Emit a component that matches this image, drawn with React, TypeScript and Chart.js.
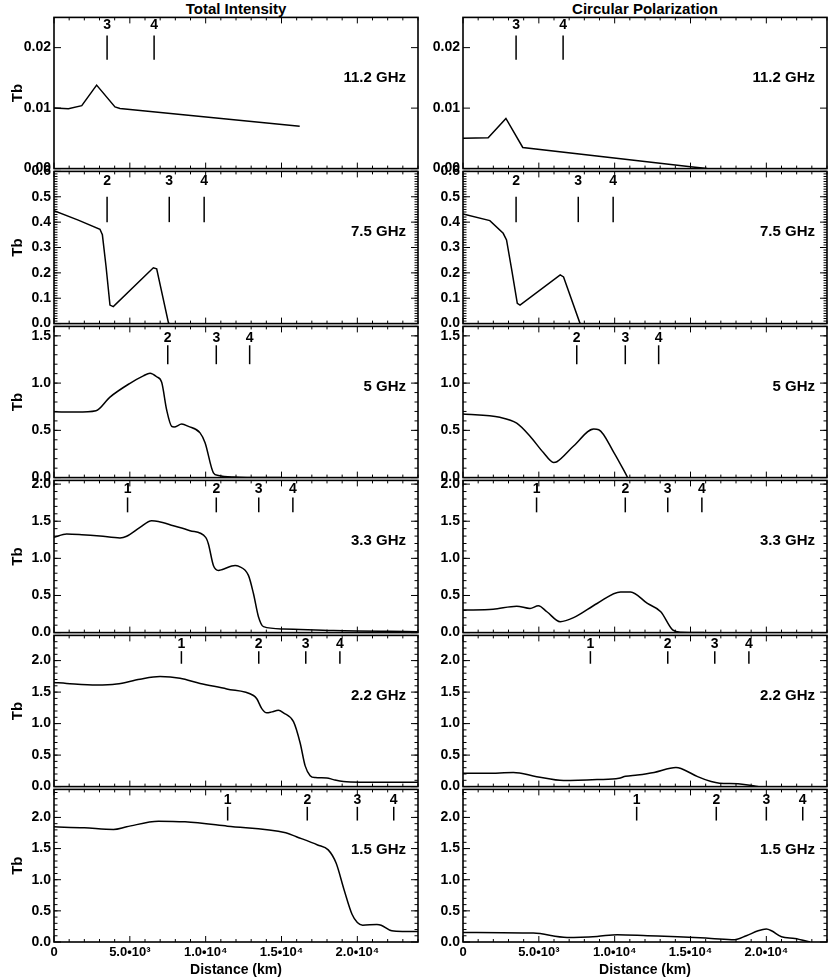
import { useEffect, useRef } from 'react';
import Chart from 'chart.js/auto';

// ---- data ----
const columnTitles = ['Total Intensity', 'Circular Polarization'];
const freqLabels = ['11.2 GHz', '7.5 GHz', '5 GHz', '3.3 GHz', '2.2 GHz', '1.5 GHz'];

const xMax = 24000;
const xTickValues = [0, 5000, 10000, 15000, 20000];
const xTickLabels = ['0', '5.0•10³', '1.0•10⁴', '1.5•10⁴', '2.0•10⁴'];

const yMax = [0.025, 0.6, 1.6, 2.05, 2.4, 2.45];
const yTickValues = [
  [0, 0.01, 0.02],
  [0, 0.1, 0.2, 0.3, 0.4, 0.5, 0.6],
  [0, 0.5, 1.0, 1.5],
  [0, 0.5, 1.0, 1.5, 2.0],
  [0, 0.5, 1.0, 1.5, 2.0],
  [0, 0.5, 1.0, 1.5, 2.0],
];
const yTickDecimals = [2, 1, 1, 1, 1, 1];
const yMinorStep = [0, 0.01, 0.1, 0.1, 0.1, 0.1];

// numbered markers (distance, km)
const markerX = [
  [3500, 6600],
  [3500, 7600, 9900],
  [7500, 10700, 12900],
  [4850, 10700, 13500, 15750],
  [8400, 13500, 16600, 18850],
  [11450, 16700, 20000, 22400],
];
const markerNames = [
  ['3', '4'],
  ['2', '3', '4'],
  ['2', '3', '4'],
  ['1', '2', '3', '4'],
  ['1', '2', '3', '4'],
  ['1', '2', '3', '4'],
];
// marker bar low / high and label level, in Tb units
const markerLo = [0.018, 0.4, 1.2, 1.62, 1.95, 1.95];
const markerHi = [0.022, 0.5, 1.4, 1.82, 2.15, 2.17];
const markerText = [0.0237, 0.56, 1.48, 1.93, 2.26, 2.28];

// Total intensity
const ti112X = [0, 950, 1830, 2810, 4020, 4350, 16200];
const ti112Y = [0.01, 0.0099, 0.0104, 0.0138, 0.0102, 0.00995, 0.007];
const ti75X = [0, 1600, 3030, 3190, 3430, 3690, 3910, 6550, 6770, 7540, 7600];
const ti75Y = [0.445, 0.408, 0.372, 0.35, 0.226, 0.073, 0.067, 0.22, 0.216, 0.005, 0];
const ti5X = [0, 1500, 2770, 3690, 5010, 5890, 6330, 6770, 7100, 7430, 7760, 7920, 8420, 8860, 9630, 9960, 10510, 10840, 11830, 14000, 15000];
const ti5Y = [0.697, 0.693, 0.708, 0.852, 0.998, 1.077, 1.105, 1.067, 1.008, 0.715, 0.542, 0.535, 0.566, 0.542, 0.473, 0.369, 0.051, 0.023, 0.006, 0, 0];
const ti33X = [0, 835, 1830, 3030, 4350, 4790, 5670, 6440, 6880, 7870, 8970, 10000, 10180, 10510, 10840, 11060, 11940, 12160, 12820, 13150, 13480, 13810, 15130, 18420, 24000];
const ti33Y = [1.283, 1.328, 1.319, 1.301, 1.275, 1.297, 1.417, 1.506, 1.497, 1.439, 1.373, 1.283, 1.194, 0.905, 0.838, 0.847, 0.905, 0.896, 0.771, 0.526, 0.214, 0.08, 0.049, 0.027, 0.013];
const ti22X = [0, 835, 2810, 4130, 5670, 6990, 8310, 9630, 11390, 13150, 13370, 13700, 14030, 14360, 14800, 15130, 15790, 16230, 16560, 16890, 17220, 17990, 18420, 19080, 20180, 24000];
const ti22Y = [1.653, 1.638, 1.612, 1.628, 1.705, 1.747, 1.721, 1.638, 1.55, 1.446, 1.394, 1.238, 1.171, 1.186, 1.212, 1.171, 1.031, 0.693, 0.329, 0.174, 0.143, 0.137, 0.111, 0.08, 0.07, 0.07];
const ti15X = [0, 2000, 3920, 4790, 6890, 8640, 11430, 15280, 15980, 17380, 18080, 18600, 19120, 19650, 20000, 20350, 21290, 21570, 22270, 22970, 24000];
const ti15Y = [1.849, 1.833, 1.807, 1.849, 1.94, 1.929, 1.86, 1.754, 1.69, 1.558, 1.479, 1.267, 0.843, 0.445, 0.313, 0.27, 0.281, 0.27, 0.18, 0.17, 0.17];

// Circular polarization
const cp112X = [0, 1660, 2830, 3940, 15000, 16100];
const cp112Y = [0.005, 0.0051, 0.0083, 0.0035, 0.0003, 0];
const cp75X = [0, 1770, 2650, 2870, 3210, 3580, 3760, 6410, 6630, 7690, 7750];
const cp75Y = [0.432, 0.406, 0.356, 0.33, 0.213, 0.08, 0.073, 0.192, 0.184, 0.005, 0];
const cp5X = [0, 2430, 3540, 4420, 5300, 5970, 6190, 7290, 8620, 8950, 9950, 10840];
const cp5Y = [0.673, 0.638, 0.576, 0.438, 0.265, 0.161, 0.168, 0.334, 0.514, 0.507, 0.265, 0.006];
const cp33X = [0, 1990, 3540, 4420, 4970, 5530, 6410, 7290, 8840, 10390, 11050, 12160, 13040, 13820, 14370, 15910];
const cp33Y = [0.303, 0.316, 0.356, 0.325, 0.361, 0.281, 0.147, 0.201, 0.392, 0.548, 0.548, 0.392, 0.281, 0.036, 0.004, 0];
const cp22X = [0, 1550, 3320, 4860, 6630, 8840, 10280, 10720, 11500, 12600, 14040, 14370, 15470, 16360, 16910, 18130, 19010, 19460];
const cp22Y = [0.21, 0.21, 0.225, 0.158, 0.096, 0.111, 0.132, 0.163, 0.184, 0.225, 0.303, 0.288, 0.158, 0.08, 0.054, 0.044, 0.018, 0.002];
const cp15X = [0, 4640, 6860, 8840, 10170, 12160, 14150, 16360, 17900, 18680, 19460, 20000, 20340, 21000, 21880, 22880];
const cp15Y = [0.154, 0.143, 0.074, 0.09, 0.117, 0.101, 0.085, 0.058, 0.037, 0.101, 0.18, 0.207, 0.18, 0.085, 0.058, 0];

const curvesX = [
  [ti112X, ti75X, ti5X, ti33X, ti22X, ti15X],
  [cp112X, cp75X, cp5X, cp33X, cp22X, cp15X],
];
const curvesY = [
  [ti112Y, ti75Y, ti5Y, ti33Y, ti22Y, ti15Y],
  [cp112Y, cp75Y, cp5Y, cp33Y, cp22Y, cp15Y],
];

// ---- layout ----
const FONT = '"Liberation Sans", Arial, Helvetica, sans-serif';
const PLOT_LEFT = [54, 463];
const PLOT_W = 364;
const AXIS_W = 54;
const PAD = 10;
const ROW_TOP = [16, 170, 325, 479, 634, 788];
const PLOT_BOTTOM = 942;
const PAGE_H = 979;
// the two high-frequency panels are drawn as plain polylines
const SMOOTH_ROW = [false, false, true, true, true, true];

Chart.defaults.font.family = FONT;

function Panel({ row, col }: { row: number; col: number }) {
  const chartRef = useRef<HTMLCanvasElement>(null);
  const last = row === ROW_TOP.length - 1;
  const rowH = (last ? PLOT_BOTTOM : ROW_TOP[row + 1]) - ROW_TOP[row];
  const left = PLOT_LEFT[col] - AXIS_W;
  const top = ROW_TOP[row] - PAD;
  const width = AXIS_W + PLOT_W + PAD;
  const height = last ? PAGE_H - top : rowH + 2 * PAD;

  useEffect(() => {
    if (!chartRef.current) return;
    const ctx = chartRef.current.getContext('2d');
    if (!ctx) return;

    const xs = curvesX[col][row];
    const ys = curvesY[col][row];

    // frame, inward ticks, markers and frequency label
    const framePlugin = {
      id: 'frame',
      afterDraw(chart: Chart) {
        const c = chart.ctx;
        const a = chart.chartArea;
        const sx = chart.scales.x;
        const sy = chart.scales.y;
        c.save();
        c.strokeStyle = '#000';
        c.fillStyle = '#000';
        c.lineWidth = 1;
        c.beginPath();
        for (let v = 0; v <= xMax; v += 1000) {
          const px = sx.getPixelForValue(v);
          const len = v % 5000 === 0 ? 6 : 3;
          c.moveTo(px, a.bottom);
          c.lineTo(px, a.bottom - len);
          c.moveTo(px, a.top);
          c.lineTo(px, a.top + len);
        }
        for (const v of yTickValues[row]) {
          const py = sy.getPixelForValue(v);
          c.moveTo(a.left, py);
          c.lineTo(a.left + 7, py);
          c.moveTo(a.right, py);
          c.lineTo(a.right - 7, py);
        }
        const step = yMinorStep[row];
        if (step > 0) {
          const n = Math.round(yMax[row] / step);
          for (let k = 1; k <= n; k++) {
            const py = sy.getPixelForValue(k * step);
            if (py < a.top) break;
            c.moveTo(a.left, py);
            c.lineTo(a.left + 3.5, py);
            c.moveTo(a.right, py);
            c.lineTo(a.right - 3.5, py);
          }
        }
        c.stroke();

        c.lineWidth = 1.6;
        c.strokeRect(a.left, a.top, a.right - a.left, a.bottom - a.top);

        // numbered markers
        c.lineWidth = 1.5;
        c.font = `bold 14px ${FONT}`;
        c.textAlign = 'center';
        c.textBaseline = 'middle';
        markerX[row].forEach((mx, i) => {
          const px = sx.getPixelForValue(mx);
          c.beginPath();
          c.moveTo(px, sy.getPixelForValue(markerLo[row]));
          c.lineTo(px, sy.getPixelForValue(markerHi[row]));
          c.stroke();
          c.fillText(markerNames[row][i], px, sy.getPixelForValue(markerText[row]));
        });

        c.font = `bold 15px ${FONT}`;
        c.textAlign = 'right';
        c.fillText(freqLabels[row], a.right - 12, a.top + 60);
        c.restore();
      },
    };

    const chart = new Chart(ctx, {
      type: 'line',
      data: {
        datasets: [
          {
            data: xs.map((x, i) => ({ x, y: ys[i] })),
            borderColor: '#000',
            borderWidth: 1.5,
            pointRadius: 0,
            fill: false,
            tension: 0,
            cubicInterpolationMode: SMOOTH_ROW[row] ? 'monotone' : 'default',
          },
        ],
      },
      options: {
        animation: false,
        responsive: true,
        maintainAspectRatio: false,
        events: [],
        layout: { padding: { top: PAD, right: PAD, bottom: last ? 0 : PAD, left: 0 } },
        plugins: { legend: { display: false }, tooltip: { enabled: false } },
        scales: {
          x: {
            type: 'linear',
            min: 0,
            max: xMax,
            display: last,
            grid: { display: false, drawTicks: false },
            border: { display: false },
            afterBuildTicks: (s: any) => {
              s.ticks = xTickValues.map((v) => ({ value: v }));
            },
            afterFit: (s: any) => {
              if (last) s.height = PAGE_H - PLOT_BOTTOM;
            },
            ticks: {
              autoSkip: false,
              maxRotation: 0,
              padding: 3,
              color: '#000',
              font: { size: 13, weight: 'bold' },
              callback: (v: any) => {
                const i = xTickValues.indexOf(Number(v));
                return i >= 0 ? xTickLabels[i] : '';
              },
            },
            title: {
              display: true,
              text: 'Distance (km)',
              color: '#000',
              font: { size: 14, weight: 'bold' },
              padding: { top: 0, bottom: 0 },
            },
          },
          y: {
            type: 'linear',
            min: 0,
            max: yMax[row],
            grid: { display: false, drawTicks: false },
            border: { display: false },
            afterBuildTicks: (s: any) => {
              s.ticks = yTickValues[row].map((v) => ({ value: v }));
            },
            afterFit: (s: any) => {
              s.width = AXIS_W;
            },
            ticks: {
              padding: 3,
              color: '#000',
              font: { size: 14, weight: 'bold' },
              callback: (v: any) => Number(v).toFixed(yTickDecimals[row]),
            },
            title: {
              display: col === 0,
              text: 'Tb',
              color: '#000',
              font: { size: 15, weight: 'bold' },
              padding: { top: 9, bottom: 0 },
            },
          },
        },
      },
      plugins: [framePlugin],
    } as any);

    return () => {
      chart.destroy();
    };
  }, [row, col, last]);

  return (
    <div style={{ position: 'absolute', left, top, width, height }}>
      <canvas ref={chartRef} />
    </div>
  );
}

export default function App() {
  return (
    <div
      style={{
        position: 'absolute',
        left: 0,
        top: 0,
        width: 829,
        height: PAGE_H,
        background: '#fff',
        overflow: 'hidden',
      }}
    >
      {columnTitles.map((t, col) => (
        <div
          key={t}
          style={{
            position: 'absolute',
            left: PLOT_LEFT[col],
            top: 0,
            width: PLOT_W,
            textAlign: 'center',
            font: `bold 15px ${FONT}`,
            lineHeight: '18px',
            color: '#000',
          }}
        >
          {t}
        </div>
      ))}
      {ROW_TOP.map((_, row) =>
        [0, 1].map((col) => <Panel key={`${row}-${col}`} row={row} col={col} />)
      )}
    </div>
  );
}
